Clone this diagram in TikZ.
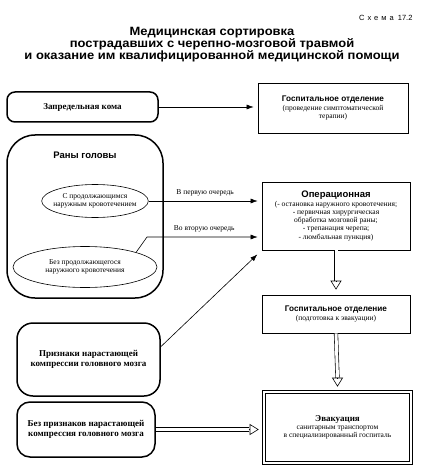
\documentclass[tikz,border=0pt]{standalone}
\usepackage{graphicx}
\usepackage{fontspec}
\setmainfont{Liberation Serif}
\setsansfont{Liberation Sans}
\usetikzlibrary{arrows.meta,shapes.geometric}

\newcommand\headsans{\sffamily\bfseries\fontsize{8.2}{10}\selectfont}
\newcommand\bigsans{\sffamily\bfseries\fontsize{9.5}{11}\selectfont}
\newcommand\headserif{\rmfamily\bfseries\fontsize{9}{10}\selectfont}
\newcommand\notetext{\rmfamily\mdseries\fontsize{7.5}{8.3}\selectfont}
\newcommand\wide[1]{\scalebox{1.08}[1]{#1}}

\tikzset{
    leftbox/.style={draw, line width=1.5pt, align=center, inner sep=0pt, font=\headserif},
    rightbox/.style={draw, line width=0.7pt, align=center, inner sep=0pt, font=\notetext},
    oval/.style={draw, ellipse, line width=0.6pt, align=center, inner ysep=0pt, inner xsep=-4pt, font=\notetext},
    arr/.style={-{Latex[length=7pt,width=5pt]}, line width=0.6pt, shorten >=4pt},
    shaft/.style={double, double distance=3pt, line width=0.6pt},
    hollowtip/.style={-{Triangle[open,length=9pt,width=11pt]}, line width=0.6pt},
    lbl/.style={font=\notetext, above, inner sep=2pt}
}

\begin{document}
\begin{tikzpicture}[x=1pt,y=-1pt]
    \useasboundingbox (0,0) rectangle (424,473);

    % Titel
    \node[anchor=east, font=\sffamily\fontsize{7.5}{8}\selectfont] (nr) at (416,18)
        {{\addfontfeature{LetterSpace=40}Схема}\ \ 17.2};
    \node[align=center, font=\sffamily\bfseries\fontsize{12}{12}\selectfont] (title) at (212,45)
        {\wide{Медицинская сортировка}\\\wide{пострадавших с черепно-мозговой травмой}\\\wide{и оказание им квалифицированной медицинской помощи}};

    % linke Spalte
    \node[leftbox, rounded corners=8pt, minimum width=151pt, minimum height=30pt] (koma) at (82.5,107) {Запредельная кома};
    \node[leftbox, rounded corners=28pt, minimum width=156pt, minimum height=163pt] (wunden) at (85,216.5) {};
    \node[font=\bigsans] (wundtitel) at (85,155) {Раны головы};
    \node[oval, minimum width=104pt, minimum height=33pt] (mitblut) at (95,201) {С продолжающимся\\наружным кровотечением};
    \node[oval, minimum width=144pt, minimum height=41pt] (ohneblut) at (85,267) {Без продолжающегося\\наружного кровотечения};
    \node[leftbox, rounded corners=16pt, minimum width=143pt, minimum height=73pt] (kompr) at (88.5,359.5) {Признаки нарастающей\\компрессии головного мозга};
    \node[leftbox, rounded corners=13pt, minimum width=138pt, minimum height=55pt] (ohnekompr) at (86,429.5) {Без признаков нарастающей\\компрессия головного мозга};

    % rechte Spalte
    \node[rightbox, minimum width=150pt, minimum height=50pt] (hosp) at (333,108)
        {\headsans Госпитальное отделение\\[1pt](проведение симптоматической\\терапии)};
    \node[rightbox, minimum width=148pt, minimum height=68pt] (op) at (336,216)
        {\bigsans Операционная\\(- остановка наружного кровотечения;\\- первичная хирургическая\\обработка мозговой раны;\\- трепанация черепа;\\- люмбальная пункция)};
    \node[rightbox, minimum width=148pt, minimum height=38pt] (vorb) at (336,314)
        {\headsans Госпитальное отделение\\[1pt](подготовка к эвакуации)};
    \node[rightbox, double, double distance=2pt, line width=0.6pt, minimum width=147pt, minimum height=71pt] (evak) at (337.5,427.5)
        {\headserif Эвакуация\\санитарным транспортом\\в специализированный госпиталь};

    % Pfeile und Beschriftungen
    \coordinate (knick) at (147,237);
    \draw[arr] (koma.east) -- (koma.east -| hosp.west);
    \draw[arr] (mitblut.east) -- (mitblut.east -| op.west) node[lbl, pos=0.5, yshift=3pt] {В первую очередь};
    \draw[arr] (ohneblut.north east) -- (knick) -- (knick -| op.west) node[lbl, pos=0.5, yshift=3pt] {Во вторую очередь};
    \draw[arr, shorten >=6pt] (kompr.10) -- (op.south west);

    % Hohlpfeile
    \draw[shaft] (op.south) -- ([yshift=14pt]vorb.north);
    \draw[hollowtip] ([yshift=14pt]vorb.north) -- ([yshift=5pt]vorb.north);
    \draw[shaft] (vorb.south) -- ([yshift=14pt]evak.north);
    \draw[hollowtip] ([yshift=14pt]evak.north) -- ([yshift=5pt]evak.north);
    \draw[shaft] (ohnekompr.east) -- ([xshift=-15pt]ohnekompr.east -| evak.west);
    \draw[hollowtip] ([xshift=-15pt]ohnekompr.east -| evak.west) -- ([xshift=-5pt]ohnekompr.east -| evak.west);
\end{tikzpicture}
\end{document}
